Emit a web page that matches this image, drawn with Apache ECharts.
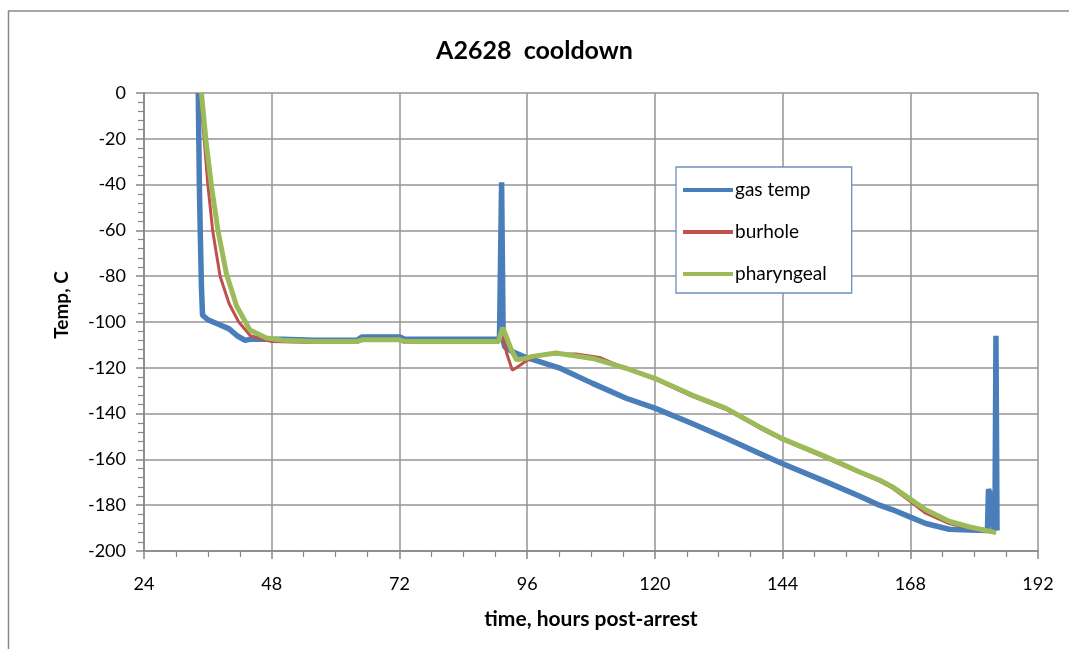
<!DOCTYPE html>
<html>
<head>
<meta charset="utf-8">
<title>A2628 cooldown</title>
<script src="https://cdn.jsdelivr.net/npm/echarts@6/dist/echarts.min.js"></script>
<style>
  html, body { margin: 0; padding: 0; background: #fff; }
  #chartCover { width: 1069px; height: 649px; }
</style>
</head>
<body>
<div id="chartCover"></div>
<script>
  // values: hours post-arrest / temperature C
  var gasHours = [34.2, 34.4, 34.6, 34.8, 35.0, 36.0, 38.0, 40.0, 41.5, 43.0, 44.0, 50, 56, 64, 65, 72, 73, 80, 88, 90.8,
                  91.2, 91.5, 91.8, 93.3, 95.8, 102, 108.3, 114.6, 120, 127, 133.4, 139.6, 143.8, 152.1, 158.4, 162.2,
                  164.7, 167.8, 170.9, 175.3, 179, 182.5, 182.7, 183.0, 183.3, 183.6, 183.9, 184.1, 184.3];
  var gasTemps = [0, -40, -64, -85, -97, -99, -101, -103, -106, -108, -107.5, -107.5, -108, -108, -106.5, -106.5, -107.5, -107.5, -107.5, -107.5,
                  -39, -108, -111, -113, -115.5, -120, -126.8, -133.3, -137.6, -144.3, -150.8, -157.3, -161.7, -169.7, -176, -180,
                  -182, -185, -188, -190.5, -190.8, -191, -173, -175, -180, -190, -191, -106, -191];

  var burHours = [34.6, 35.3, 36.0, 36.9, 38.3, 40.0, 41.8, 44.0, 48, 56, 64, 65, 72, 73, 80, 88, 90.6,
                  91.3, 92.2, 93.2, 94.0, 95.8, 98, 100.8, 105.2, 109.6, 114.6, 120, 127, 133.4, 139.6, 143.8, 152.1,
                  158.4, 162.2, 164.6, 167.8, 170.9, 175.3, 179, 184.1];
  var burTemps = [0, -20, -40, -60, -80, -92, -100, -106, -108.5, -109, -109, -108, -108, -109, -109, -109, -109,
                  -105, -114, -121, -120, -117, -115, -114, -114, -115.5, -120.5, -125, -132.5, -138.2, -146.2, -151.3, -159.3,
                  -165.8, -169.5, -172.5, -178, -183.5, -188, -190, -192];

  var pharHours = [34.8, 35.7, 36.7, 37.9, 39.5, 41.4, 43.9, 47, 50, 56, 64, 65, 72, 73, 80, 88, 90.6,
                   91.4, 92.2, 93.0, 94.0, 95.5, 97, 101.4, 108.3, 114.6, 120, 127, 133.4, 139.6, 143.8, 152.1,
                   158.4, 162.2, 164.6, 167.8, 170.9, 175.3, 179, 184.1];
  var pharTemps = [0, -22, -41, -60, -79, -93, -103.5, -107, -108, -108.5, -108.5, -107.8, -107.8, -108.5, -108.5, -108.5, -108.5,
                   -102.5, -107, -112, -116.5, -116, -115, -113.5, -115.9, -120.2, -124.6, -131.9, -137.7, -145.7, -150.8, -158.8,
                   -165.4, -169, -171.9, -177, -182, -187, -189.4, -192];

  var seriesNames = ["gas temp", "burhole", "pharyngeal"];
  var seriesColors = ["#4A7EBB", "#C0504D", "#9BBB59"];
  var seriesWidths = [5.5, 3, 5];

  function pairs(xs, ys){
    var out = [];
    for (var i = 0; i < xs.length; i++) {
      out.push([xs[i], ys[i]]);
    }
    return out;
  }

  var lists = [pairs(gasHours, gasTemps), pairs(burHours, burTemps), pairs(pharHours, pharTemps)];
  var series = [];
  lists.forEach(function(item, i){
    series.push({
      name: seriesNames[i],
      type: 'line',
      data: item,
      showSymbol: false,
      symbol: 'none',
      animation: false,
      lineStyle: { color: seriesColors[i], width: seriesWidths[i] },
      itemStyle: { color: seriesColors[i] },
      z: 2 + i
    });
  });

  var fontName = 'Lato';
  var chartOption = {
    backgroundColor: '#fff',
    textStyle: { fontFamily: fontName },
    title: {
      text: 'A2628  cooldown',
      left: 'center',
      top: 33,
      textStyle: { fontFamily: fontName, fontSize: 25, fontWeight: 'bold', color: '#000' }
    },
    legend: {
      orient: 'vertical',
      left: 676,
      top: 167,
      icon: 'rect',
      itemWidth: 50,
      itemHeight: 4,
      itemGap: 22,
      padding: [13, 25, 9, 7],
      backgroundColor: '#fff',
      borderColor: '#6C8FC4',
      borderWidth: 1.3,
      borderRadius: 0,
      textStyle: { fontFamily: fontName, fontSize: 19, color: '#000', lineHeight: 20, padding: [0, 0, 0, -3] },
      data: seriesNames
    },
    grid: {
      left: 144,
      right: 31,
      top: 93,
      bottom: 98,
      containLabel: false
    },
    xAxis: {
      type: 'value',
      min: 24,
      max: 192,
      interval: 24,
      axisLine: { show: true, onZero: false, lineStyle: { color: '#868686', width: 1.5 } },
      axisTick: { show: true, length: 8, lineStyle: { color: '#868686', width: 1.5 } },
      minorTick: { show: true, splitNumber: 4, length: 6, lineStyle: { color: '#868686', width: 1.2 } },
      splitLine: { show: true, lineStyle: { color: '#959595', width: 1.5 } },
      axisLabel: { margin: 24, fontSize: 18, color: '#000', fontFamily: fontName }
    },
    yAxis: {
      type: 'value',
      min: -200,
      max: 0,
      interval: 20,
      axisLine: { show: true, onZero: false, lineStyle: { color: '#868686', width: 1.5 } },
      axisTick: { show: true, length: 8, lineStyle: { color: '#868686', width: 1.5 } },
      minorTick: { show: true, splitNumber: 5, length: 6, lineStyle: { color: '#868686', width: 1.2 } },
      splitLine: { show: true, lineStyle: { color: '#959595', width: 1.5 } },
      axisLabel: { margin: 18, fontSize: 18, color: '#000', fontFamily: fontName }
    },
    graphic: [
      {
        type: 'rect',
        silent: true,
        shape: { x: 8.5, y: 11, width: 1200, height: 800 },
        style: { fill: 'none', stroke: '#8A8A8A', lineWidth: 1.5 }
      },
      {
        type: 'text',
        x: 62,
        y: 305,
        rotation: Math.PI / 2,
        style: { text: 'Temp, C', fontFamily: fontName, fontSize: 19, fontWeight: 'bold', fill: '#000',
                 align: 'center', verticalAlign: 'middle' }
      },
      {
        type: 'text',
        x: 591,
        y: 619,
        style: { text: 'time, hours post-arrest', fontFamily: fontName, fontSize: 21, fontWeight: 'bold', fill: '#000',
                 align: 'center', verticalAlign: 'middle' }
      }
    ],
    series: series
  };

  var myChart = echarts.init(document.getElementById("chartCover"));
  chartOption && myChart.setOption(chartOption, true);
</script>
</body>
</html>
